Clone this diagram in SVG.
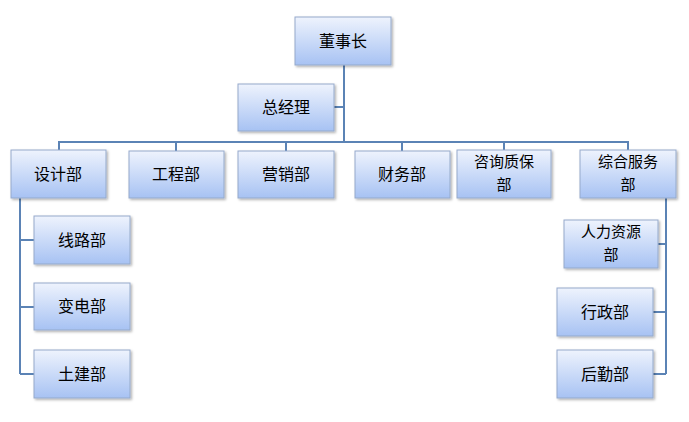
<svg xmlns="http://www.w3.org/2000/svg" width="689" height="422" viewBox="0 0 689 422">
<style>
.b{fill:url(#g);stroke:#95aacb;stroke-width:1;filter:url(#s)}
.t{font-family:"Noto Sans CJK SC",sans-serif;font-size:16px;fill:#000;text-anchor:middle}
.t2{font-size:15px}
.c{fill:none;stroke:#5b83b5;stroke-width:2}
</style>
<defs>
<linearGradient id="g" x1="0" y1="0" x2="0" y2="1"><stop offset="0" stop-color="#eef3fd"/><stop offset="1" stop-color="#a7c2f3"/></linearGradient>
<filter id="s" x="-10%" y="-10%" width="130%" height="140%"><feDropShadow dx="1.5" dy="1.5" stdDeviation="1" flood-color="#000" flood-opacity="0.3"/></filter>
</defs>
<rect width="689" height="422" fill="#fff"/>
<g id="connectors">
<path class="c" d="M344 65V142M334 107H344M59 150V142H628V150M176 142V151M286 142V151M402 142V151M504 142V150"/>
<path class="c" d="M20 198V374M20 240H34M20 307H34M20 374H34"/>
<path class="c" d="M666 198V374M658 244H666M653 312H666M653 374H666"/>
</g>
<g id="n1"><rect class="b" x="295" y="17" width="96" height="48"/><text class="t" x="343" y="47">董事长</text></g>
<g id="n2"><rect class="b" x="238" y="84" width="96" height="47"/><text class="t" x="286" y="113">总经理</text></g>
<g id="n3"><rect class="b" x="11" y="150" width="95" height="48"/><text class="t" x="58" y="180">设计部</text></g>
<g id="n4"><rect class="b" x="129" y="151" width="95" height="47"/><text class="t" x="176" y="180">工程部</text></g>
<g id="n5"><rect class="b" x="238" y="151" width="96" height="47"/><text class="t" x="286" y="180">营销部</text></g>
<g id="n6"><rect class="b" x="355" y="151" width="95" height="47"/><text class="t" x="402" y="180">财务部</text></g>
<g id="n7"><rect class="b" x="457" y="150" width="94" height="48"/><text class="t t2" x="504" y="167">咨询质保</text><text class="t t2" x="504" y="190">部</text></g>
<g id="n8"><rect class="b" x="580" y="150" width="96" height="48"/><text class="t t2" x="628" y="167">综合服务</text><text class="t t2" x="628" y="190">部</text></g>
<g id="n9"><rect class="b" x="34" y="216" width="96" height="48"/><text class="t" x="82" y="246">线路部</text></g>
<g id="n10"><rect class="b" x="34" y="283" width="96" height="47"/><text class="t" x="82" y="312">变电部</text></g>
<g id="n11"><rect class="b" x="34" y="350" width="96" height="48"/><text class="t" x="82" y="380">土建部</text></g>
<g id="n12"><rect class="b" x="564" y="220" width="94" height="48"/><text class="t t2" x="611" y="237">人力资源</text><text class="t t2" x="611" y="260">部</text></g>
<g id="n13"><rect class="b" x="557" y="288" width="96" height="48"/><text class="t" x="605" y="318">行政部</text></g>
<g id="n14"><rect class="b" x="557" y="350" width="96" height="48"/><text class="t" x="605" y="380">后勤部</text></g>
</svg>
